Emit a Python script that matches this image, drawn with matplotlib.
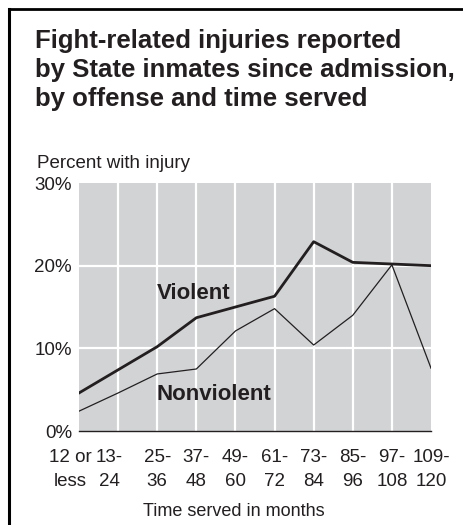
import matplotlib.pyplot as plt
import matplotlib.transforms as mtransforms
from matplotlib.lines import Line2D

plt.rcParams['font.family'] = ['Liberation Sans', 'DejaVu Sans']

# data
months = ["12 or\nless", "13-\n24", "25-\n36", "37-\n48", "49-\n60",
          "61-\n72", "73-\n84", "85-\n96", "97-\n108", "109-\n120"]
violent = [4.6, 7.4, 10.2, 13.7, 15.0, 16.3, 22.9, 20.4, 20.2, 20.0]
nonviolent = [2.4, 4.6, 6.9, 7.5, 12.1, 14.8, 10.4, 14.0, 20.1, 7.6]
yticks = [0, 10, 20, 30]

W, H = 464, 525
fig = plt.figure(figsize=(W / 100, H / 100), dpi=100)
ax = fig.add_axes([79 / W, 1 - 431 / H, 352 / W, 248 / H])

xs = list(range(len(months)))
ax.set_facecolor('#d2d3d5')
for x in xs[1:-1]:
    ax.axvline(x, color='white', lw=1.6, zorder=1)
for y in yticks[1:-1]:
    ax.axhline(y, color='white', lw=1.6, zorder=1)

ax.plot(xs, nonviolent, color='#231f20', lw=0.9, zorder=3)
ax.plot(xs, violent, color='#231f20', lw=2.0, zorder=3)

ax.set_xlim(0, len(months) - 1)
ax.set_ylim(0, 30)
for s in ['top', 'right', 'left']:
    ax.spines[s].set_visible(False)
ax.spines['bottom'].set_color('#231f20')
ax.spines['bottom'].set_linewidth(1.0)

ax.set_yticks(yticks)
ax.set_yticklabels([f"{v}%" for v in yticks], fontsize=13.5, color='#231f20')
ax.set_xticks(xs)
ax.set_xticklabels(months, fontsize=13.5, color='#231f20', linespacing=1.55)
ax.tick_params(length=0)
ax.tick_params(axis='y', pad=5)
ax.tick_params(axis='x', pad=13)
# first two labels sit a little left of their gridlines in the original
for lbl in ax.get_xticklabels()[:2]:
    lbl.set_transform(lbl.get_transform() +
                      mtransforms.ScaledTranslation(-9 / 100, 0, fig.dpi_scale_trans))

ax.text(2.94, 16.6, "Violent", fontsize=16, fontweight='bold',
        color='#231f20', ha='center', va='center', zorder=4)
ax.text(3.45, 4.4, "Nonviolent", fontsize=16, fontweight='bold',
        color='#231f20', ha='center', va='center', zorder=4)

title_lines = ["Fight-related injuries reported",
               "by State inmates since admission,",
               "by offense and time served"]
for i, line in enumerate(title_lines):
    fig.text(35 / W, 1 - (48 + 29 * i) / H, line, fontsize=18.5,
             fontweight='bold', color='#231f20', va='baseline', ha='left')

fig.text(37 / W, 1 - 168 / H, "Percent with injury", fontsize=13.5,
         color='#231f20', va='baseline', ha='left')
fig.text(234 / W, 1 - 512 / H, "Time served in months", fontsize=13,
         color='#231f20', va='center', ha='center')

# partial frame (top and left edges)
fig.add_artist(Line2D([9 / W, 1], [1 - 9 / H, 1 - 9 / H], color='black',
                      lw=2, transform=fig.transFigure))
fig.add_artist(Line2D([9 / W, 9 / W], [0, 1 - 9 / H], color='black',
                      lw=2.2, transform=fig.transFigure))

fig.savefig('out.png', dpi=100)
